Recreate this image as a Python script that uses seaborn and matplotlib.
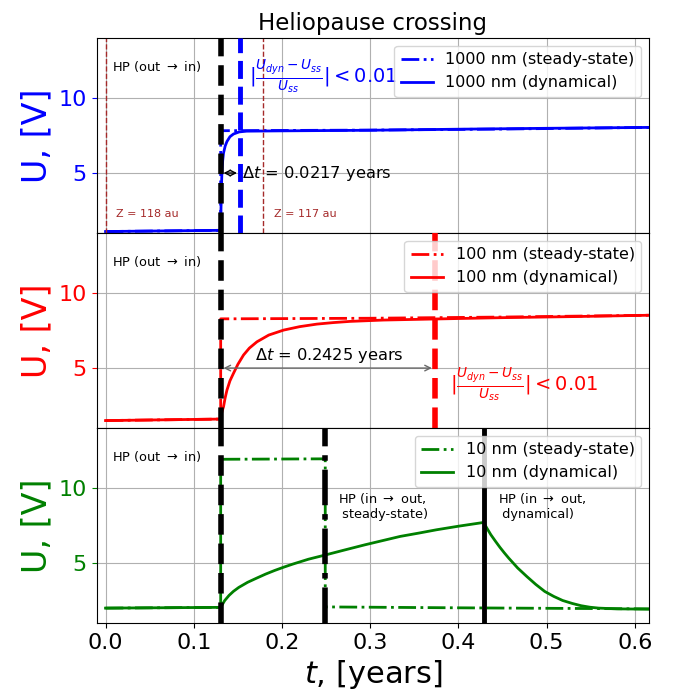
import numpy as np
import seaborn as sns
import matplotlib.pyplot as plt

# ===== data =====
t_hp_in = 0.1305          # HP crossing out -> in
t_hp_out_ss = 0.249       # HP crossing in -> out (steady-state)
t_hp_out_dyn = 0.4285     # HP crossing in -> out (dynamical)
dt_1000 = 0.0217
dt_100 = 0.2425
t_end = 0.616

# 1000 nm
t_1000_ss = [0.0, 0.1305, 0.1305, 0.3, 0.45, 0.616]
u_1000_ss = [1.10, 1.18, 7.82, 7.86, 7.93, 8.04]
t_1000_dyn = [0.0, 0.1305, 0.1308, 0.1312, 0.1316, 0.132, 0.1328, 0.1337, 0.1356,
              0.1376, 0.141, 0.145, 0.1515, 0.16, 0.2, 0.3, 0.4, 0.5, 0.616]
u_1000_dyn = [1.10, 1.18, 2.5, 3.6, 4.5, 5.2, 5.85, 6.33, 6.8,
              7.1, 7.42, 7.6, 7.74, 7.79, 7.81, 7.85, 7.92, 7.98, 8.04]

# 100 nm
t_100_ss = [0.0, 0.1305, 0.1305, 0.3, 0.45, 0.616]
u_100_ss = [1.50, 1.60, 8.28, 8.32, 8.40, 8.52]
t_100_dyn = [0.0, 0.1305, 0.131, 0.132, 0.1337, 0.1355, 0.1376, 0.141, 0.145,
             0.150, 0.1564, 0.163, 0.1716, 0.185, 0.2018, 0.22, 0.2396, 0.258,
             0.277, 0.315, 0.373, 0.45, 0.53, 0.616]
u_100_dyn = [1.50, 1.60, 1.85, 2.1, 2.42, 3.0, 3.53, 4.15, 4.65,
             5.25, 5.87, 6.33, 6.75, 7.2, 7.53, 7.76, 7.93, 8.03,
             8.11, 8.2, 8.27, 8.36, 8.43, 8.52]

# 10 nm
t_10_ss = [0.0, 0.1305, 0.1305, 0.249, 0.249, 0.4, 0.616]
u_10_ss = [2.00, 2.05, 11.92, 11.95, 2.08, 2.02, 1.95]
t_10_dyn = [0.0, 0.1305, 0.135, 0.140, 0.145, 0.151, 0.161, 0.1713, 0.1815,
            0.1917, 0.202, 0.212, 0.23, 0.249, 0.27, 0.294, 0.314, 0.334,
            0.355, 0.375, 0.40, 0.4285, 0.432, 0.4367, 0.442, 0.447, 0.452,
            0.457, 0.467, 0.4774, 0.4876, 0.4978, 0.508, 0.518, 0.529, 0.539,
            0.549, 0.559, 0.58, 0.616]
u_10_dyn = [2.00, 2.05, 2.5, 2.85, 3.12, 3.38, 3.72, 4.0, 4.27,
            4.51, 4.73, 4.93, 5.26, 5.54, 5.86, 6.22, 6.5, 6.78,
            7.0, 7.22, 7.46, 7.71, 7.35, 6.89, 6.45, 6.05, 5.68,
            5.33, 4.68, 4.11, 3.58, 3.11, 2.78, 2.51, 2.31, 2.16,
            2.06, 2.0, 1.95, 1.93]

t_z118 = 0.0
t_z117 = 0.179

formula = r'$|\frac{U_{dyn} - U_{ss}}{U_{ss}}| < 0.01$'

fig, axes = plt.subplots(3, 1, figsize=(6.74, 6.97), dpi=100, sharex=True)
fig.subplots_adjust(left=0.1435, right=0.963, top=0.9455, bottom=0.106, hspace=0)

panels = [
    (axes[0], "blue", "1000 nm", t_1000_ss, u_1000_ss, t_1000_dyn, u_1000_dyn),
    (axes[1], "red", "100 nm", t_100_ss, u_100_ss, t_100_dyn, u_100_dyn),
    (axes[2], "green", "10 nm", t_10_ss, u_10_ss, t_10_dyn, u_10_dyn),
]

for ax, col, name, ts, us, td, ud in panels:
    sns.lineplot(x=ts, y=us, ax=ax, color=col, lw=2, linestyle="-.",
                 estimator=None, sort=False, label=name + " (steady-state)")
    sns.lineplot(x=td, y=ud, ax=ax, color=col, lw=2, linestyle="-",
                 estimator=None, sort=False, label=name + " (dynamical)")
    ax.axvline(t_hp_in, color="black", lw=4, linestyle="--", zorder=3)
    ax.set_ylim(1, 14)
    ax.set_yticks([5, 10])
    ax.set_ylabel("U, [V]", color=col, fontsize=24)
    ax.tick_params(axis="y", colors=col, labelsize=16)
    ax.tick_params(axis="x", labelsize=16)
    ax.grid(True, color="#b0b0b0", lw=0.8)
    ax.legend(loc="upper right", fontsize=11.5)
    ax.text(0.007, 12.1, "HP (out $\\rightarrow$ in)", fontsize=9.3, va="center")

ax1, ax2, ax3 = axes

# ----- top panel -----
ax1.axvline(t_hp_in + dt_1000, color="blue", lw=3.5, linestyle="--", zorder=3)
for tz in [t_z118, t_z117]:
    ax1.axvline(tz, color="brown", lw=1, linestyle="--", zorder=2)
ax1.text(0.012, 2.3, "Z = 118 au", color="brown", fontsize=8, va="center")
ax1.text(0.191, 2.3, "Z = 117 au", color="brown", fontsize=8, va="center")
ax1.annotate("", xy=(t_hp_in, 5), xytext=(t_hp_in + dt_1000, 5),
             arrowprops=dict(arrowstyle="<->", color="black", lw=1))
ax1.text(0.155, 5, r"$\Delta t$ = 0.0217 years", fontsize=11.7, va="center")
ax1.text(0.163, 11.45, formula, color="blue", fontsize=14, va="center")
ax1.set_title("Heliopause crossing", fontsize=16.5)

# ----- middle panel -----
ax2.axvline(t_hp_in + dt_100, color="red", lw=4, linestyle="--", zorder=3)
ax2.annotate("", xy=(t_hp_in, 5), xytext=(t_hp_in + dt_100, 5),
             arrowprops=dict(arrowstyle="<->", color="dimgray", lw=1))
ax2.text(0.2535, 5.85, r"$\Delta t$ = 0.2425 years", fontsize=11.7,
         va="center", ha="center")
ax2.text(0.3905, 3.87, formula, color="red", fontsize=14, va="center")

# ----- bottom panel -----
ax3.axvline(t_hp_out_ss, color="black", lw=4, linestyle="-.", zorder=3)
ax3.axvline(t_hp_out_dyn, color="black", lw=3.5, linestyle="-", zorder=3)
ax3.text(0.263, 8.8, "HP (in $\\rightarrow$ out,\n steady-state)", fontsize=9.3, va="center")
ax3.text(0.4447, 8.8, "HP (in $\\rightarrow$ out,\n dynamical)", fontsize=9.3, va="center")
ax3.set_xlim(-0.01, t_end)
ax3.set_xticks([0.0, 0.1, 0.2, 0.3, 0.4, 0.5, 0.6])
ax3.set_xlabel("$t$, [years]", fontsize=22)

plt.savefig("out.png", dpi=100)
